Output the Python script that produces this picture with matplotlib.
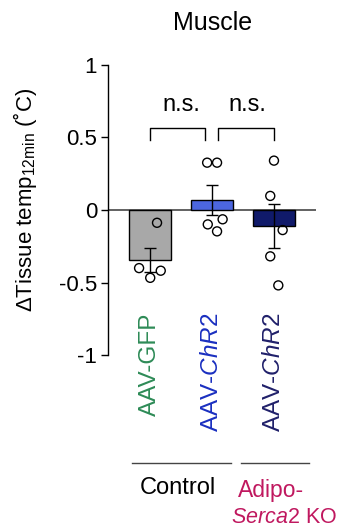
import matplotlib
matplotlib.use("Agg")
import matplotlib.pyplot as plt

plt.rcParams['font.family'] = ['Liberation Sans', 'DejaVu Sans']
plt.rcParams['mathtext.fontset'] = 'custom'
plt.rcParams['mathtext.rm'] = 'Liberation Sans'
plt.rcParams['mathtext.it'] = 'Liberation Sans:italic'

# data
groups = ['AAV-GFP', 'AAV-$\\it{ChR2}$', 'AAV-$\\it{ChR2}$']
means = [-0.345, 0.069, -0.11]
sems = [0.085, 0.105, 0.15]
points = [
    [-0.088, -0.40, -0.467, -0.418],
    [0.326, 0.326, -0.099, -0.064, -0.147],
    [0.34, 0.097, -0.138, -0.319, -0.519],
]
jitter = [
    [0.11, -0.18, 0.0, 0.17],
    [-0.08, 0.08, -0.07, 0.17, 0.08],
    [0.0, -0.06, 0.14, -0.06, 0.07],
]
bar_colors = ['#a8a8a8', '#4c66e0', '#101a6a']
label_colors = ['#2e8b57', '#1a2fc0', '#20206a']
yticks = [-1, -0.5, 0, 0.5, 1]
ytick_labels = ['-1', '-0.5', '0', '0.5', '1']

fig = plt.figure(figsize=(3.5, 5.31), dpi=100)
ax = fig.add_axes([0.309, 0.331, 0.594, 0.547])

x = range(len(means))
ax.bar(x, means, width=0.68, color=bar_colors, edgecolor='black',
       linewidth=1, zorder=2)
ax.errorbar(x, means, yerr=sems, fmt='none', ecolor='black',
            elinewidth=1, capsize=4, capthick=1, zorder=3)
for i, vals in enumerate(points):
    xs = [i + j for j in jitter[i]]
    ax.scatter(xs, vals, s=42, facecolor='none', edgecolor='black',
               linewidth=1, zorder=4)

ax.axhline(0, color='#555555', linewidth=1.3, zorder=1)

ax.set_xlim(-0.68, 2.68)
ax.set_ylim(-1, 1)
ax.set_yticks(yticks)
ax.set_yticklabels(ytick_labels, fontsize=16)
ax.tick_params(axis='y', length=5, width=1, pad=3)
ax.set_xticks([])
for s in ['top', 'right', 'bottom']:
    ax.spines[s].set_visible(False)
ax.spines['left'].set_linewidth(1)

fig.text(25 / 350, 1 - 200 / 531, 'ΔTissue temp$_{\\mathrm{12min}}$ (˚C)',
         rotation=90, ha='center', va='center', fontsize=16)
fig.text(0.606, 1 - 23 / 531, 'Muscle', ha='center', va='center',
         fontsize=18)

# brackets
for x0, x1, xt in [(0.0, 0.89, 0.5), (1.1, 2.0, 1.57)]:
    ax.plot([x0, x0, x1, x1], [0.483, 0.565, 0.565, 0.483],
            color='black', linewidth=1)
    ax.text(xt, 0.72, 'n.s.', ha='center', va='center', fontsize=17)

# group labels
for i, (g, c) in enumerate(zip(groups, label_colors)):
    ax.text(i, -0.71, g, rotation=90, ha='center', va='top',
            color=c, fontsize=17.5, clip_on=False)

ax.plot([-0.29, 1.31], [-1.745, -1.745], color='#444444', linewidth=1,
        clip_on=False)
ax.plot([1.47, 2.57], [-1.745, -1.745], color='#444444', linewidth=1,
        clip_on=False)
ax.text(0.44, -1.917, 'Control', ha='center', va='center', fontsize=17,
        clip_on=False)
ax.text(1.42, -1.93, 'Adipo-', ha='left', va='center', fontsize=16.5,
        color='#c0185f', clip_on=False)
ax.text(1.31, -2.115, '$\\it{Serca2}$ KO', ha='left', va='center',
        fontsize=15.5, color='#c0185f', clip_on=False)

fig.savefig('out.png', dpi=100)
